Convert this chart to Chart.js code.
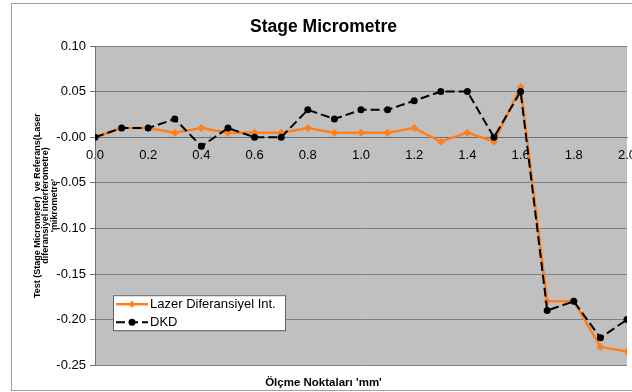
<!DOCTYPE html>
<html>
<head>
<meta charset="utf-8">
<script src="https://cdn.jsdelivr.net/npm/chart.js@4/dist/chart.umd.min.js"></script>
<style>
  html, body { margin: 0; padding: 0; background: #fff; }
  #wrap { width: 632px; height: 392px; }
</style>
</head>
<body>
<div id="wrap"><canvas id="chart" width="632" height="392"></canvas></div>
<script>
// measuring points (mm)
const points = [0.0, 0.1, 0.2, 0.3, 0.4, 0.5, 0.6, 0.7, 0.8, 0.9, 1.0,
                1.1, 1.2, 1.3, 1.4, 1.5, 1.6, 1.7, 1.8, 1.9, 2.0];
const lazerValues = [0, 0.01, 0.01, 0.005, 0.01, 0.005, 0.005, 0.005, 0.01, 0.005, 0.005,
                     0.005, 0.01, -0.005, 0.005, -0.005, 0.055, -0.18, -0.18, -0.23, -0.235];
const dkdValues = [0, 0.01, 0.01, 0.02, -0.01, 0.01, 0, 0, 0.03, 0.02, 0.03,
                   0.03, 0.04, 0.05, 0.05, 0, 0.05, -0.19, -0.18, -0.22, -0.20];
const seriesNames = ['Lazer Diferansiyel Int.', 'DKD'];
const chartTitle = 'Stage Micrometre';
const xTitle = "Ölçme Noktaları 'mm'";
const yTitle = ['Test (Stage Micrometer)  ve Referans(Laser', 'diferansiyel interferometre)', "'mikrometre'"];

const FONT = "'Liberation Sans', Arial, sans-serif";
const ORANGE = '#FF7F1E';

const toXY = (vals) => points.map((x, i) => ({ x: x, y: vals[i] }));

// white frame + grey plot background
const backdrop = {
  id: 'backdrop',
  beforeDraw(chart) {
    const { ctx, chartArea: a } = chart;
    ctx.save();
    ctx.fillStyle = '#fff';
    ctx.fillRect(0, 0, chart.width, chart.height);
    ctx.strokeStyle = '#a0a0a0';
    ctx.lineWidth = 1;
    ctx.strokeRect(11.5, 3.5, chart.width, chart.height - 5);
    ctx.fillStyle = '#C0C0C0';
    ctx.fillRect(a.left, a.top, a.right - a.left, a.bottom - a.top);
    ctx.restore();
  }
};

// legend box inside the plot, bottom-left
const boxLegend = {
  id: 'boxLegend',
  afterDatasetsDraw(chart) {
    const { ctx, chartArea: a } = chart;
    const x = a.left + 18, y = a.bottom - 70, w = 172, h = 35;
    ctx.save();
    ctx.fillStyle = '#fff';
    ctx.fillRect(x, y, w, h);
    ctx.strokeStyle = '#606060';
    ctx.lineWidth = 1;
    ctx.strokeRect(x + 0.5, y + 0.5, w, h);
    chart.data.datasets.forEach((ds, i) => {
      const ry = y + 9 + i * 18;
      ctx.strokeStyle = ds.borderColor;
      ctx.lineWidth = ds.borderWidth;
      ctx.setLineDash(ds.borderDash || []);
      ctx.beginPath();
      ctx.moveTo(x + 3, ry);
      ctx.lineTo(x + 35, ry);
      ctx.stroke();
      ctx.setLineDash([]);
      ctx.fillStyle = ds.borderColor;
      ctx.beginPath();
      if (ds.pointStyle === 'rectRot') {
        ctx.moveTo(x + 19, ry - 3.5); ctx.lineTo(x + 22.5, ry);
        ctx.lineTo(x + 19, ry + 3.5); ctx.lineTo(x + 15.5, ry);
      } else {
        ctx.arc(x + 19, ry, 3.5, 0, Math.PI * 2);
      }
      ctx.fill();
      ctx.fillStyle = '#000';
      ctx.font = '13px ' + FONT;
      ctx.textBaseline = 'middle';
      ctx.fillText(ds.label, x + 37, ry);
    });
    ctx.restore();
  }
};

new Chart(document.getElementById('chart'), {
  type: 'line',
  data: {
    datasets: [{
      label: seriesNames[0],
      data: toXY(lazerValues),
      borderColor: ORANGE,
      backgroundColor: ORANGE,
      borderWidth: 2.5,
      pointStyle: 'rectRot',
      pointRadius: 4,
      pointBorderWidth: 0,
      order: 2
    }, {
      label: seriesNames[1],
      data: toXY(dkdValues),
      borderColor: '#000',
      backgroundColor: '#000',
      borderWidth: 2,
      borderDash: [9, 4],
      pointStyle: 'circle',
      pointRadius: 3.5,
      pointBorderWidth: 0,
      order: 1
    }]
  },
  options: {
    responsive: false,
    animation: false,
    layout: { padding: { left: 20, right: 5, top: 0, bottom: 0 } },
    plugins: {
      legend: { display: false },
      tooltip: { enabled: false },
      title: {
        display: true,
        text: chartTitle,
        color: '#000',
        font: { family: FONT, size: 17.5, weight: 'bold' },
        padding: { top: 17, bottom: 8 }
      },
      subtitle: {
        display: true,
        position: 'bottom',
        text: xTitle,
        color: '#000',
        font: { family: FONT, size: 11.5, weight: 'bold' },
        padding: { top: 11, bottom: 2 }
      }
    },
    scales: {
      x: {
        type: 'linear',
        position: { y: 0 },
        min: 0,
        max: 2,
        ticks: {
          stepSize: 0.2,
          padding: 10,
          color: '#000',
          font: { family: FONT, size: 13 },
          maxRotation: 0,
          callback: (v) => v.toFixed(1)
        },
        grid: { drawOnChartArea: false, drawTicks: false },
        border: { color: '#707070', width: 1 },
        afterFit: (s) => { s.paddingLeft = 0; s.paddingRight = 0; }
      },
      y: {
        min: -0.25,
        max: 0.10,
        ticks: {
          stepSize: 0.05,
          padding: 4,
          color: '#000',
          font: { family: FONT, size: 13 },
          callback: (v) => v.toFixed(2)
        },
        grid: { color: '#808080', tickColor: '#707070', tickLength: 5 },
        border: { color: '#707070', width: 1 },
        title: {
          display: true,
          text: yTitle,
          color: '#000',
          font: { family: FONT, size: 9, weight: 'bold', lineHeight: 0.95 },
          padding: { top: 13, bottom: 0 }
        },
        afterFit: (s) => { s.width = 75; }
      }
    }
  },
  plugins: [backdrop, boxLegend]
});
</script>
</body>
</html>
